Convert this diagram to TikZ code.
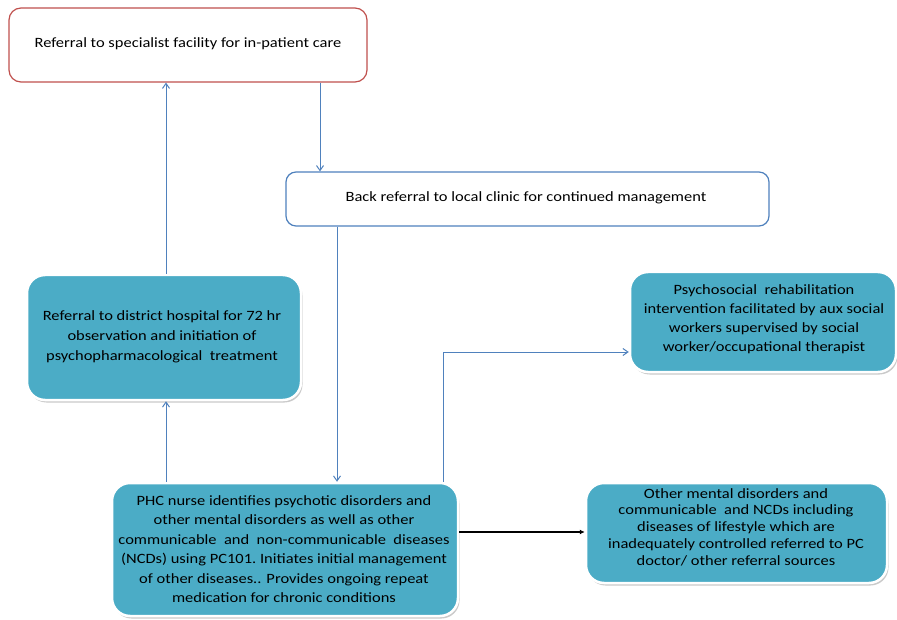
\documentclass[tikz,border=0pt]{standalone}
\usepackage{fontspec}
\setmainfont{Carlito}[FakeStretch=1.16]
\usetikzlibrary{shadows,arrows.meta}
\definecolor{redb}{HTML}{C0504D}
\definecolor{blueb}{HTML}{4F81BD}
\definecolor{tealf}{HTML}{4BACC6}
\tikzset{
  plainbox/.style={draw, line width=1.2pt, fill=white, rounded corners=12pt, inner sep=0pt},
  tealbox/.style={draw=white, line width=2.5pt, fill=tealf, rounded corners=18pt, inner sep=0pt,
     drop shadow={shadow xshift=1.5pt, shadow yshift=-2.5pt, opacity=0.35, fill=black!60}},
  txt/.style={font=\fontsize{14.2}{19.5}\selectfont, align=center},
  conn/.style={draw=blueb, line width=1pt, -{Straight Barb[length=5pt,width=7pt]}},
  blk/.style={draw=black, line width=1.2pt, -{Latex[length=5pt,width=5pt]}}
}
\begin{document}
\begin{tikzpicture}[x=1pt,y=-1pt]
\useasboundingbox (0,0) rectangle (897,620);
% boxes
\node[plainbox, draw=redb, minimum width=358pt, minimum height=74pt] (top) at (188,45) {};
\node[txt] at (188,44) {Referral to specialist facility for in-patient care};
\node[plainbox, draw=blueb, rounded corners=10pt, minimum width=483pt, minimum height=54pt] (back) at (527.5,199) {};
\node[txt] at (526,198) {Back referral to local clinic for continued management};
\node[tealbox, minimum width=274pt, minimum height=125pt] (dist) at (164,337.5) {};
\node[txt, font=\fontsize{14.2}{20}\selectfont] at (162,337) {Referral to district hospital for 72 hr\\observation and initiation of\\psychopharmacological\ \ treatment};
\node[tealbox, minimum width=266pt, minimum height=100pt] (psy) at (763,322) {};
\node[txt, font=\fontsize{14.2}{19}\selectfont] at (764,319) {Psychosocial\ \ rehabilitation\\intervention facilitated by aux social\\workers supervised by social\\worker/occupational therapist};
\node[tealbox, minimum width=346pt, minimum height=133pt] (phc) at (285,549.5) {};
\node[txt] at (284,549) {PHC nurse identifies psychotic disorders and\\other mental disorders as well as other\\communicable\ \ and\ \ non-communicable\ \ diseases\\(NCDs) using PC101.\ Initiates initial management\\of other diseases.. Provides ongoing repeat\\medication for chronic conditions};
\node[tealbox, minimum width=301pt, minimum height=100pt] (oth) at (736.5,533) {};
\node[txt, font=\fontsize{14.2}{16.8}\selectfont] at (736,527) {Other mental disorders and\\communicable\ \ and NCDs including\\diseases of lifestyle which are\\inadequately controlled referred to PC\\doctor/ other referral sources};
% connectors
\draw[conn] (dist.north -| 166,0) -- (top.south -| 166,0);
\draw[conn] (top.south -| 320,0) -- (back.north -| 320,0);
\draw[conn] (back.south -| 337,0) -- (phc.north -| 337,0);
\draw[conn] (phc.north -| 166,0) -- (dist.south -| 166,0);
\coordinate (bend) at (443,352);
\draw[conn] (phc.north -| 443,0) -- (bend) -- (bend -| psy.west);
\draw[blk] (phc.east |- 0,532) -- (oth.west |- 0,532);
\end{tikzpicture}
\end{document}
